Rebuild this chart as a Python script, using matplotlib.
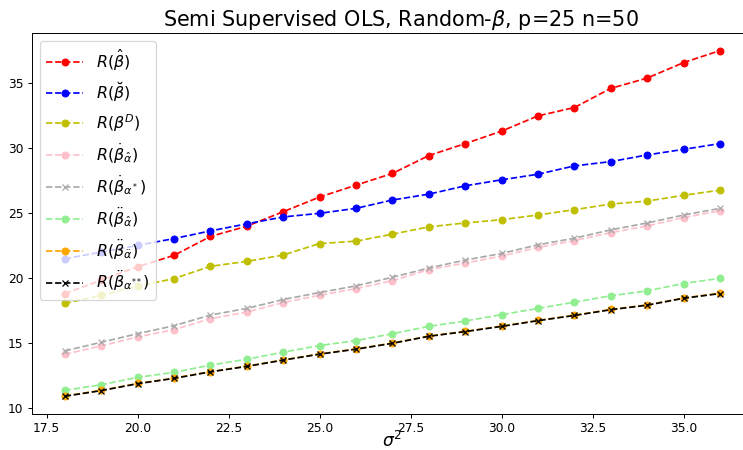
import matplotlib
matplotlib.use("Agg")
import matplotlib.pyplot as plt

sigma2 = list(range(18, 37))

r_hat = [18.80, 19.82, 20.86, 21.73, 23.18, 23.97, 25.08, 26.21, 27.12, 28.02,
         29.39, 30.31, 31.27, 32.44, 33.08, 34.55, 35.34, 36.53, 37.45]
r_breve = [21.47, 21.98, 22.50, 23.02, 23.61, 24.15, 24.68, 24.96, 25.34, 25.98,
           26.43, 27.07, 27.53, 27.96, 28.60, 28.93, 29.44, 29.87, 30.31]
r_d = [18.04, 18.67, 19.36, 19.95, 20.89, 21.27, 21.76, 22.64, 22.82, 23.36,
       23.92, 24.22, 24.47, 24.83, 25.24, 25.67, 25.90, 26.34, 26.74]
r_dot_hat = [14.14, 14.78, 15.47, 16.03, 16.87, 17.38, 18.11, 18.67, 19.18, 19.79,
             20.63, 21.14, 21.68, 22.34, 22.87, 23.48, 23.99, 24.63, 25.16]
r_dot_star = [14.40, 15.06, 15.72, 16.33, 17.15, 17.66, 18.34, 18.88, 19.39, 20.05,
              20.76, 21.37, 21.88, 22.54, 23.05, 23.69, 24.22, 24.83, 25.34]
r_ddot_hat = [11.37, 11.80, 12.37, 12.75, 13.31, 13.76, 14.30, 14.81, 15.19, 15.72,
              16.28, 16.69, 17.18, 17.66, 18.14, 18.63, 19.01, 19.57, 19.97]
r_ddot_ddot = [10.94, 11.37, 11.90, 12.31, 12.81, 13.23, 13.71, 14.17, 14.55, 15.00,
               15.54, 15.90, 16.30, 16.74, 17.14, 17.58, 17.93, 18.46, 18.83]
r_ddot_2star = [10.92, 11.35, 11.88, 12.29, 12.79, 13.21, 13.69, 14.15, 14.53, 14.98,
                15.52, 15.88, 16.28, 16.72, 17.12, 17.56, 17.91, 18.44, 18.80]

series = [
    (r_hat, 'r', 'o', r'$R(\hat{\beta})$'),
    (r_breve, 'b', 'o', r'$R(\breve{\beta})$'),
    (r_d, 'y', 'o', r'$R(\beta^D)$'),
    (r_dot_hat, 'pink', 'o', r'$R(\dot{\beta}_{\hat{\alpha}})$'),
    (r_dot_star, 'darkgray', 'x', r'$R(\dot{\beta}_{\alpha^*})$'),
    (r_ddot_hat, 'lightgreen', 'o', r'$R(\ddot{\beta}_{\hat{\alpha}})$'),
    (r_ddot_ddot, 'orange', 'o', r'$R(\ddot{\beta}_{\ddot{\alpha}})$'),
    (r_ddot_2star, 'k', 'x', r'$R(\ddot{\beta}_{\alpha^{**}})$'),
]

DPI = 88
fig = plt.figure(figsize=(743 / DPI, 450 / DPI), dpi=DPI)
ax = fig.add_axes([0.0431, 0.0811, 0.9701, 0.8449])

for vals, col, mk, lab in series:
    ax.plot(sigma2, vals, linestyle='--', marker=mk, color=col, label=lab,
            markersize=5.5, linewidth=1.4)

ax.set_title(r'Semi Supervised OLS, Random-$\beta$, p=25 n=50', fontsize=17,
             x=0.512)
ax.set_xlabel(r'$\sigma^2$', fontsize=14, labelpad=-3)
ax.legend(loc='upper left', fontsize=13, handlelength=2.3)

fig.savefig('out.png', dpi=DPI)
